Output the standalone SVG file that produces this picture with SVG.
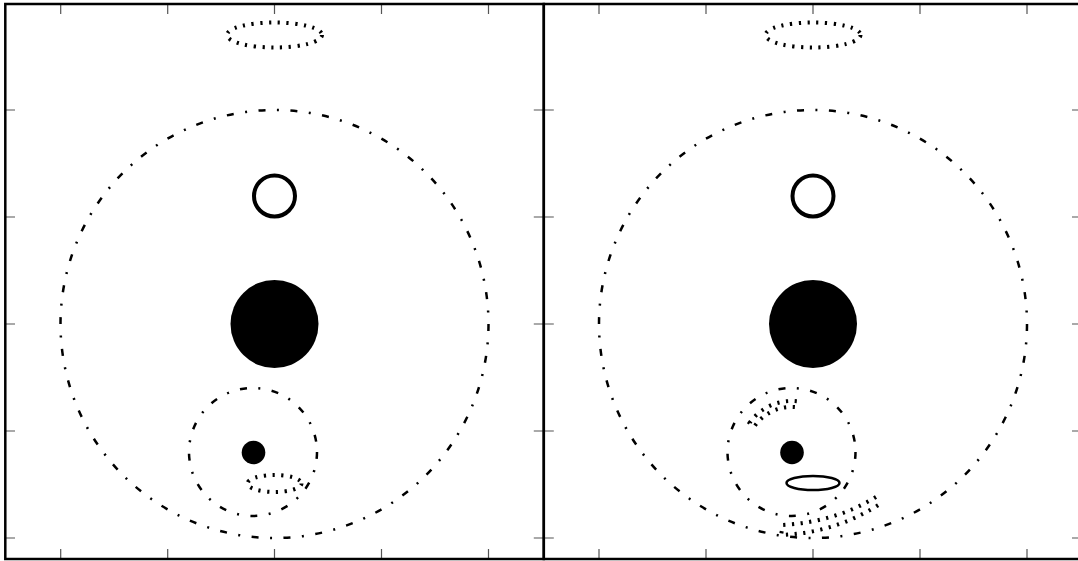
<svg xmlns="http://www.w3.org/2000/svg" width="1078" height="561" viewBox="0 0 1078 561">
<style>
.frame{fill:none;stroke:#000;stroke-width:2.5}
.tick{stroke:#555;stroke-width:1.2}
.dashdot{fill:none;stroke:#000;stroke-width:2.5;stroke-dasharray:7 11.5 2 11.5}
.dotted{fill:none;stroke:#000;stroke-width:4;stroke-dasharray:2.2 6.5}
.solid{fill:none;stroke:#000}
.fill{fill:#000}
</style>
<rect width="1078" height="561" fill="#fff"/>
<g id="left-panel">
  <g id="left-top-ellipse"><ellipse class="dotted" cx="274.5" cy="35" rx="47.5" ry="12.5"/></g>
  <g id="left-big-circle"><circle class="dashdot" cx="274.5" cy="324" r="214"/></g>
  <g id="left-open-circle"><circle class="solid" stroke-width="4" cx="274.5" cy="196" r="20.5"/></g>
  <g id="left-filled-circle"><circle class="fill" cx="274.5" cy="324" r="44"/></g>
  <g id="left-medium-circle"><circle class="dashdot" cx="253" cy="452" r="64"/></g>
  <g id="left-small-dot"><circle class="fill" cx="253.5" cy="452.5" r="11.8"/></g>
  <g id="left-small-ellipse"><ellipse class="dotted" cx="274.5" cy="483.5" rx="27" ry="8.5"/></g>
</g>
<g id="right-panel">
  <g id="right-top-ellipse"><ellipse class="dotted" cx="813" cy="35" rx="47.5" ry="12.5"/></g>
  <g id="right-big-circle"><circle class="dashdot" cx="813" cy="324" r="214"/></g>
  <g id="right-open-circle"><circle class="solid" stroke-width="4" cx="813" cy="196" r="20.5"/></g>
  <g id="right-filled-circle"><circle class="fill" cx="813" cy="324" r="44"/></g>
  <g id="right-medium-circle"><circle class="dashdot" cx="791.5" cy="452" r="64"/></g>
  <g id="right-small-dot"><circle class="fill" cx="792" cy="452.5" r="11.8"/></g>
  <g id="right-small-ellipse"><ellipse class="solid" stroke-width="2.5" cx="813" cy="483" rx="26.5" ry="7"/></g>
  <g id="right-dotted-arc"><path class="dotted" d="M796.8 401.3 A51 51 0 0 0 749.7 422.7 L754.6 426.2 A45 45 0 0 1 796.2 407.2"/></g>
  <g id="right-dotted-band"><path class="dotted" d="M876 497 Q835 522 783 525 L781 535 Q835 533 880 504"/></g>
</g>
<g id="axes">
  <path class="tick" d="M60.7 4V14M167.7 4V14M274.5 4V14M381.5 4V14M488.5 4V14M60.7 559V549M167.7 559V549M274.5 559V549M381.5 559V549M488.5 559V549M5 110H15M5 217H15M5 324H15M5 431H15M5 538H15M543.8 110H533.8M543.8 217H533.8M543.8 324H533.8M543.8 431H533.8M543.8 538H533.8"/>
  <path class="tick" d="M599 4V14M706 4V14M813 4V14M920 4V14M1027 4V14M599 559V549M706 559V549M813 559V549M920 559V549M1027 559V549M543.8 110H553.8M543.8 217H553.8M543.8 324H553.8M543.8 431H553.8M543.8 538H553.8M1082 110H1072M1082 217H1072M1082 324H1072M1082 431H1072M1082 538H1072"/>
  <rect class="frame" x="5.3" y="4" width="538.5" height="555"/>
  <rect class="frame" x="543.8" y="4" width="538.5" height="555"/>
</g>
</svg>
